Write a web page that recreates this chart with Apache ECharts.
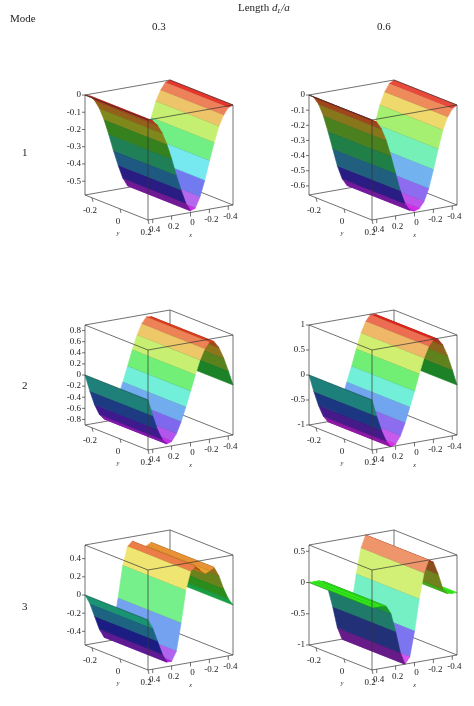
<!DOCTYPE html>
<html>
<head>
<meta charset="utf-8">
<script src="https://cdn.jsdelivr.net/npm/echarts@6/dist/echarts.min.js"></script>
<style>html,body{margin:0;background:#fff}#main{width:474px;height:706px}</style>
</head>
<body>
<div id="main"></div>
<script>
// x samples along the profile (surface is constant along y)
var xSamples = [0.45, 0.4, 0.35, 0.3, 0.25, 0.2, 0.15, 0.1, 0.05, 0, -0.05, -0.1, -0.15, -0.2, -0.25, -0.3, -0.35, -0.4, -0.45];
var mode1Short = [0, -0.01, -0.04, -0.09, -0.16, -0.25, -0.35, -0.44, -0.52, -0.57, -0.56, -0.5, -0.41, -0.3, -0.2, -0.11, -0.05, -0.01, 0];
var mode1Long = [0, -0.02, -0.07, -0.15, -0.26, -0.38, -0.5, -0.59, -0.64, -0.65, -0.64, -0.6, -0.52, -0.4, -0.27, -0.15, -0.07, -0.02, 0];
var mode2Short = [0, -0.3, -0.56, -0.75, -0.85, -0.82, -0.7, -0.5, -0.25, 0.02, 0.3, 0.55, 0.74, 0.85, 0.84, 0.72, 0.52, 0.27, 0];
var mode2Long = [0, -0.34, -0.64, -0.87, -1.0, -0.97, -0.82, -0.58, -0.28, 0.02, 0.35, 0.65, 0.87, 0.99, 0.98, 0.85, 0.62, 0.32, 0];
var mode3Short = [0, -0.1, -0.25, -0.4, -0.5, -0.5, -0.4, -0.1, 0.25, 0.45, 0.5, 0.45, 0.4, 0.42, 0.45, 0.35, 0.2, 0.08, 0];
var mode3Long = [0, 0, 0, -0.02, -0.15, -0.45, -0.8, -1.0, -0.9, -0.5, 0, 0.4, 0.6, 0.55, 0.35, 0.1, 0.01, 0, 0];
var yTicks = [-0.2, 0, 0.2];
var xTicks = [0.4, 0.2, 0, -0.2, -0.4];

var panels = [
  { z: mode1Short, zr: [-0.58, 0], zt: [0, -0.1, -0.2, -0.3, -0.4, -0.5], col: 0, row: 0 },
  { z: mode1Long, zr: [-0.66, 0], zt: [0, -0.1, -0.2, -0.3, -0.4, -0.5, -0.6], col: 1, row: 0 },
  { z: mode2Short, zr: [-0.9, 0.9], zt: [0.8, 0.6, 0.4, 0.2, 0, -0.2, -0.4, -0.6, -0.8], col: 0, row: 1 },
  { z: mode2Long, zr: [-1, 1], zt: [1, 0.5, 0, -0.5, -1], col: 1, row: 1 },
  { z: mode3Short, zr: [-0.55, 0.55], zt: [0.4, 0.2, 0, -0.2, -0.4], col: 0, row: 2 },
  { z: mode3Long, zr: [-1, 0.6], zt: [0.5, 0, -0.5, -1], col: 1, row: 2 }
];
var colOff = [0, 224], rowOff = [0, 230, 450];
var serif = '"Liberation Serif","DejaVu Serif",serif';

function projector(p) {
  var fx = 148 + colOff[p.col], fy = 220 + rowOff[p.row];
  return function (x, y, z) {
    var a = (0.45 - x) / 0.9, b = (0.2 - y) / 0.45, c = (z - p.zr[0]) / (p.zr[1] - p.zr[0]);
    return [fx + a * 85 - b * 63, fy - a * 15 - b * 25 - c * 100];
  };
}

function surfColor(p, z0, z1) {
  var t = ((z0 + z1) / 2 - p.zr[0]) / (p.zr[1] - p.zr[0]);
  var hue = (1 - t) * 300;
  // slope: rising away from viewer faces the light
  var s = (z1 - z0) / (p.zr[1] - p.zr[0]) * 18;
  var light = 50 + 20 * Math.tanh(s / 1.5);
  var sat = 80 - Math.max(0, -s) * 6;
  return 'hsl(' + hue.toFixed(0) + ',' + Math.max(45, sat).toFixed(0) + '%,' + light.toFixed(0) + '%)';
}

function boxSeries(p, front) {
  var P = projector(p);
  var lo = p.zr[0], hi = p.zr[1];
  return {
    type: 'custom', coordinateSystem: 'none', silent: true, z: front ? 3 : 1,
    data: [0],
    renderItem: function () {
      var ch = [];
      function ln(a, b) {
        ch.push({ type: 'line', shape: { x1: a[0], y1: a[1], x2: b[0], y2: b[1] }, style: { stroke: '#333', lineWidth: 0.7 } });
      }
      var X0 = 0.45, X1 = -0.45, Y0 = 0.2, Y1 = -0.25;
      if (!front) {
        ln(P(X1, Y1, lo), P(X1, Y1, hi));
        ln(P(X1, Y1, lo), P(X0, Y1, lo));
        ln(P(X1, Y1, lo), P(X1, Y0, lo));
        return { type: 'group', children: ch };
      }
      ln(P(X0, Y0, lo), P(X0, Y0, hi));
      ln(P(X0, Y1, lo), P(X0, Y1, hi));
      ln(P(X1, Y0, lo), P(X1, Y0, hi));
      ln(P(X0, Y0, lo), P(X0, Y1, lo));
      ln(P(X0, Y0, lo), P(X1, Y0, lo));
      ln(P(X0, Y0, hi), P(X0, Y1, hi));
      ln(P(X0, Y0, hi), P(X1, Y0, hi));
      ln(P(X1, Y1, hi), P(X0, Y1, hi));
      ln(P(X1, Y1, hi), P(X1, Y0, hi));
      var txt = { fill: '#222', fontFamily: serif, fontSize: 9 };
      p.zt.forEach(function (v) {
        var q = P(X0, Y1, v);
        ln(q, [q[0] - 3, q[1]]);
        ch.push({ type: 'text', x: q[0] - 4, y: q[1], style: Object.assign({ text: String(v), align: 'right', verticalAlign: 'middle' }, txt) });
      });
      yTicks.forEach(function (v) {
        var q = P(X0, v, lo);
        ln(q, [q[0] + 1, q[1] + 4]);
        ch.push({ type: 'text', x: q[0] - 2, y: q[1] + 8, style: Object.assign({ text: String(v), align: 'center', verticalAlign: 'top' }, txt) });
      });
      xTicks.forEach(function (v) {
        var q = P(v, Y0, lo);
        ln(q, [q[0], q[1] + 4]);
        ch.push({ type: 'text', x: q[0] + 2, y: q[1] + 6, style: Object.assign({ text: String(v), align: 'center', verticalAlign: 'top' }, txt) });
      });
      var qy = P(X0, 0, lo), qx = P(0, Y0, lo);
      ch.push({ type: 'text', x: qy[0] - 2, y: qy[1] + 22, style: Object.assign({}, txt, { text: 'y', fontSize: 6, fontStyle: 'italic', align: 'center' }) });
      ch.push({ type: 'text', x: qx[0], y: qx[1] + 20, style: Object.assign({}, txt, { text: 'x', fontSize: 6, fontStyle: 'italic', align: 'center' }) });
      return { type: 'group', children: ch };
    }
  };
}

function surfaceSeries(p) {
  var P = projector(p);
  var strips = [];
  // farthest strips (x = -0.45) first
  for (var i = xSamples.length - 2; i >= 0; i--) strips.push([i]);
  return {
    type: 'custom', coordinateSystem: 'none', silent: true, z: 2,
    data: strips,
    renderItem: function (params, api) {
      var i = api.value(0);
      var xa = xSamples[i], xb = xSamples[i + 1], za = p.z[i], zb = p.z[i + 1];
      var pts = [P(xa, 0.2, za), P(xb, 0.2, zb), P(xb, -0.25, zb), P(xa, -0.25, za)];
      var col = surfColor(p, za, zb);
      return {
        type: 'group', children: [
          { type: 'polygon', shape: { points: pts }, style: { fill: col, stroke: col, lineWidth: 0.6 } },
          { type: 'line', shape: { x1: pts[0][0], y1: pts[0][1], x2: pts[3][0], y2: pts[3][1] }, style: { stroke: 'rgba(0,0,0,0.5)', lineWidth: 0.5 } }
        ]
      };
    }
  };
}

var series = [];
panels.forEach(function (p) {
  series.push(boxSeries(p, false), surfaceSeries(p), boxSeries(p, true));
});

var chart = echarts.init(document.getElementById('main'), null, { renderer: 'canvas' });
chart.setOption({
  backgroundColor: '#fff',
  animation: false,
  graphic: [
    { type: 'text', left: 10, top: 14, style: { text: 'Mode', font: '11px ' + serif, fill: '#222' } },
    { type: 'text', left: 238, top: 3, style: { text: 'Length {i|d}{s|L}{i|/a}', font: '11px ' + serif, fill: '#222',
      rich: { i: { fontStyle: 'italic', fontSize: 11, fontFamily: serif }, s: { fontStyle: 'italic', fontSize: 7, fontFamily: serif, verticalAlign: 'bottom', padding: [6, 0, 0, 0] } } } },
    { type: 'text', left: 152, top: 22, style: { text: '0.3', font: '11px ' + serif, fill: '#222' } },
    { type: 'text', left: 377, top: 22, style: { text: '0.6', font: '11px ' + serif, fill: '#222' } },
    { type: 'text', left: 22, top: 148, style: { text: '1', font: '11px ' + serif, fill: '#222' } },
    { type: 'text', left: 22, top: 381, style: { text: '2', font: '11px ' + serif, fill: '#222' } },
    { type: 'text', left: 22, top: 602, style: { text: '3', font: '11px ' + serif, fill: '#222' } }
  ],
  series: series
});
</script>
</body>
</html>
